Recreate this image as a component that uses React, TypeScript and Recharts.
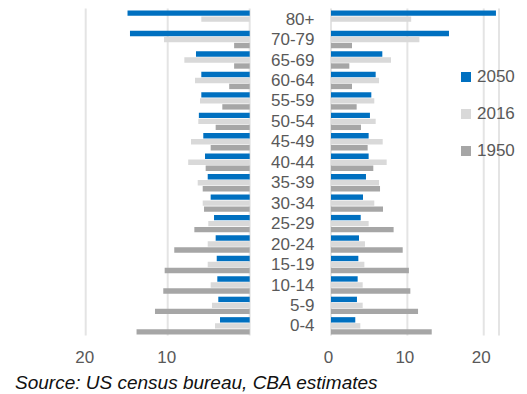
import { Bar, BarChart, CartesianGrid, Legend, XAxis, YAxis } from 'recharts';

// Age bands, oldest at the top
const AGES = [
  '80+', '70-79', '65-69', '60-64', '55-59', '50-54', '45-49', '40-44',
  '35-39', '30-34', '25-29', '20-24', '15-19', '10-14', '5-9', '0-4',
];

// Left side of the pyramid (% of population)
const LEFT_2050 = [14.9, 14.6, 6.55, 5.9, 5.9, 6.2, 5.66, 5.45, 5.12, 4.76, 4.35, 4.15, 4.02, 3.95, 3.83, 3.62];
const LEFT_2016 = [5.9, 10.45, 7.97, 6.67, 6.06, 6.27, 7.16, 7.5, 6.34, 5.73, 5.05, 5.12, 5.12, 4.76, 4.6, 4.23];
const LEFT_1950 = [0, 1.9, 1.9, 2.5, 3.34, 4.15, 4.76, 5.37, 5.73, 5.57, 6.75, 9.2, 10.37, 10.54, 11.55, 13.8];

// Right side of the pyramid (% of population)
const RIGHT_2050 = [21.6, 15.45, 6.72, 5.85, 5.28, 5.1, 4.93, 4.93, 4.58, 4.19, 3.89, 3.67, 3.58, 3.49, 3.4, 3.18];
const RIGHT_2016 = [10.5, 11.57, 7.86, 6.29, 5.67, 5.85, 6.77, 7.29, 6.29, 5.67, 4.93, 4.45, 4.37, 4.15, 4.15, 3.84];
const RIGHT_1950 = [0, 2.75, 2.4, 2.75, 3.36, 3.93, 4.8, 5.54, 6.42, 6.81, 8.2, 9.39, 10.2, 10.39, 11.4, 13.19];

const SERIES = ['2050', '2016', '1950'];
const X_TICKS = [0, 10, 20];

const BLUE = '#0070C0';
const LIGHT = '#D9D9D9';
const DARK = '#A6A6A6';
const GRID = '#E4E4E4';
const TEXT = '#595959';
const FONT = '"Liberation Sans", Arial, Helvetica, sans-serif';

const HEIGHT = 394;
const MARGIN_TOP = 8.4;
const MARGIN_BOTTOM = 28.4;

const build = (a: number[], b: number[], c: number[]) =>
  AGES.map((age, i) => ({ age, y2050: a[i], y2016: b[i], y1950: c[i] }));

const leftData = build(LEFT_2050, LEFT_2016, LEFT_1950);
const rightData = build(RIGHT_2050, RIGHT_2016, RIGHT_1950);

// vertical layout flips the legend payload, so put it back in series order
function LegendList({ payload }: any) {
  const items = [...(payload || [])].sort(
    (a: any, b: any) => SERIES.indexOf(String(a.value)) - SERIES.indexOf(String(b.value)),
  );
  return (
    <div style={{ fontFamily: FONT, fontSize: 17, color: TEXT }}>
      {items.map((p: any) => (
        <div
          key={p.value}
          style={{ display: 'flex', alignItems: 'center', height: 20, marginBottom: 17, whiteSpace: 'nowrap' }}
        >
          <span style={{ width: 10, height: 10, background: p.color, marginRight: 6, flex: 'none' }} />
          <span>{p.value}</span>
        </div>
      ))}
    </div>
  );
}

function series() {
  return [
    <Bar key="a" dataKey="y2050" name={SERIES[0]} fill={BLUE} barSize={5.4} isAnimationActive={false} />,
    <Bar key="b" dataKey="y2016" name={SERIES[1]} fill={LIGHT} barSize={5.4} isAnimationActive={false} />,
    <Bar key="c" dataKey="y1950" name={SERIES[2]} fill={DARK} barSize={5.4} isAnimationActive={false} />,
  ];
}

const tickStyle = { fill: TEXT, fontSize: 17, fontFamily: FONT };

export default function App() {
  return (
    <div style={{ position: 'fixed', left: 0, top: 0, width: 527, height: 394, background: '#fff', overflow: 'hidden' }}>
      <div style={{ position: 'absolute', left: 0, top: 0 }}>
        <BarChart
          width={252}
          height={HEIGHT}
          data={leftData}
          layout="vertical"
          barGap={0.6}
          margin={{ top: MARGIN_TOP, right: 2.3, bottom: MARGIN_BOTTOM, left: 85.7 }}
        >
          <CartesianGrid horizontal={false} stroke={GRID} strokeWidth={2} />
          <XAxis
            type="number"
            domain={[0, 20]}
            ticks={X_TICKS}
            reversed
            height={30}
            axisLine={false}
            tickLine={false}
            tickSize={0}
            tickMargin={15}
            tick={{ ...tickStyle, dx: -1 }}
          />
          <YAxis type="category" dataKey="age" hide />
          {series()}
        </BarChart>
      </div>
      <div style={{ position: 'absolute', left: 250, top: 0 }}>
        <BarChart
          width={277}
          height={HEIGHT}
          data={rightData}
          layout="vertical"
          barGap={0.6}
          margin={{ top: MARGIN_TOP, right: 8, bottom: MARGIN_BOTTOM, left: 6 }}
        >
          <CartesianGrid horizontal={false} stroke={GRID} strokeWidth={2} />
          <XAxis
            type="number"
            domain={[0, 22]}
            ticks={X_TICKS}
            height={30}
            axisLine={false}
            tickLine={false}
            tickSize={0}
            tickMargin={15}
            tick={{ ...tickStyle, dx: -2.5 }}
          />
          <YAxis
            type="category"
            dataKey="age"
            width={75}
            interval={0}
            axisLine={false}
            tickLine={false}
            tickSize={0}
            tickMargin={16.5}
            tick={tickStyle}
          />
          {series()}
          <Legend
            layout="vertical"
            align="right"
            verticalAlign="top"
            width={20}
            wrapperStyle={{ left: 211, top: 67, right: 'auto' }}
            content={<LegendList />}
          />
        </BarChart>
      </div>
      <div
        style={{
          position: 'absolute',
          left: 15,
          top: 373,
          fontFamily: FONT,
          fontStyle: 'italic',
          fontSize: 19,
          lineHeight: '19px',
          color: '#111',
          whiteSpace: 'nowrap',
        }}
      >
        Source: US census bureau, CBA estimates
      </div>
    </div>
  );
}
